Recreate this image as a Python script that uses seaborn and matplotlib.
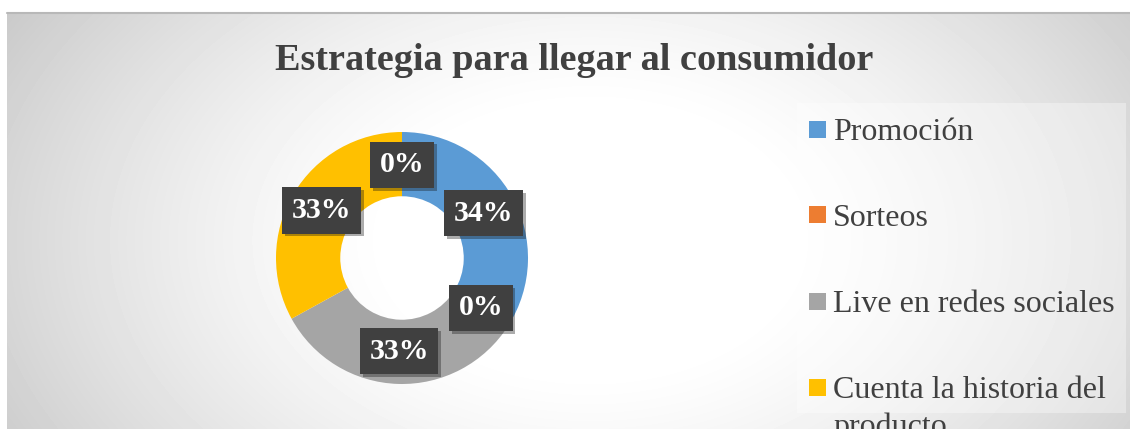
"""Donut chart: estrategia para llegar al consumidor."""

import numpy as np
import seaborn as sns
import matplotlib.pyplot as plt
import matplotlib.patheffects as pe
from matplotlib.lines import Line2D
from matplotlib.patches import Rectangle

categories = ["Promoción", "Sorteos", "Live en redes sociales",
              "Cuenta la historia del\nproducto", "Otros"]
values = [34, 0, 33, 33, 0]
colors = ["#5B9BD5", "#ED7D31", "#A5A5A5", "#FFC000", "#4472C4"]
title = "Estrategia para llegar al consumidor"

sns.set_theme(style="white")
plt.rcParams["font.family"] = ["Liberation Serif", "DejaVu Serif"]

W, H = 1130, 429
fig = plt.figure(figsize=(W / 100, H / 100), dpi=100)
fig.patch.set_facecolor("white")


def fx(px):
    return px / W


def fy(py):
    return 1 - py / H


# chart area background: soft radial grey gradient
ax_bg = fig.add_axes([fx(7), 0, 1 - fx(7), (H - 13) / H])
yy, xx = np.mgrid[13:H, 7:W]
d = np.sqrt(((xx - 590) / 650) ** 2 + ((yy - 240) / 430) ** 2)
v = 1 - 0.23 * np.clip((d - 0.3) / 0.8, 0, 1) ** 1.3
ax_bg.imshow(v, cmap="gray", vmin=0, vmax=1, aspect="auto",
             interpolation="bilinear")
ax_bg.set_axis_off()
fig.add_artist(Line2D([fx(7), 1], [fy(13)] * 2, color="#b8b8b8", lw=1.5))

fig.text(fx(574), fy(60), title, ha="center", va="center",
         fontsize=27.5, fontweight="bold", color="#404040")

# donut
cx, cy, r = 402, 258, 126
ax = fig.add_axes([fx(cx - r), (H - cy - r) / H, 2 * r / W, 2 * r / H])
wedges, _, autotexts = ax.pie(
    values, colors=colors, startangle=90, counterclock=False,
    autopct="%1.0f%%", pctdistance=0.74,
    wedgeprops=dict(width=0.51, edgecolor="none"),
    textprops=dict(color="white", fontweight="bold", fontsize=21.5),
)
ax.set_xlim(-1, 1)
ax.set_ylim(-1, 1)
for t in autotexts:
    t.set_bbox(dict(boxstyle="square,pad=0.32", fc="#404040", ec="none"))
    t.get_bbox_patch().set_path_effects(
        [pe.withSimplePatchShadow(offset=(2, -2), alpha=0.35)])

# legend (Excel-style: fixed box, last entry overflows the chart area)
fig.add_artist(Rectangle((fx(797), fy(413)), fx(1126 - 797),
                         (413 - 103) / H, transform=fig.transFigure,
                         fc="white", ec="none", alpha=0.35))
for i, (cat, col) in enumerate(zip(categories[:4], colors[:4])):
    yc = 129 + 86 * i
    fig.add_artist(Rectangle((fx(809), fy(yc + 8.5)), fx(17), 17 / H,
                             transform=fig.transFigure, fc=col, ec="none"))
    for k, line in enumerate(cat.split("\n")):
        fig.text(fx(833), fy(yc + 11 + 37 * k), line, ha="left",
                 va="baseline", fontsize=23, color="#404040")

fig.savefig("out.png", dpi=100)
